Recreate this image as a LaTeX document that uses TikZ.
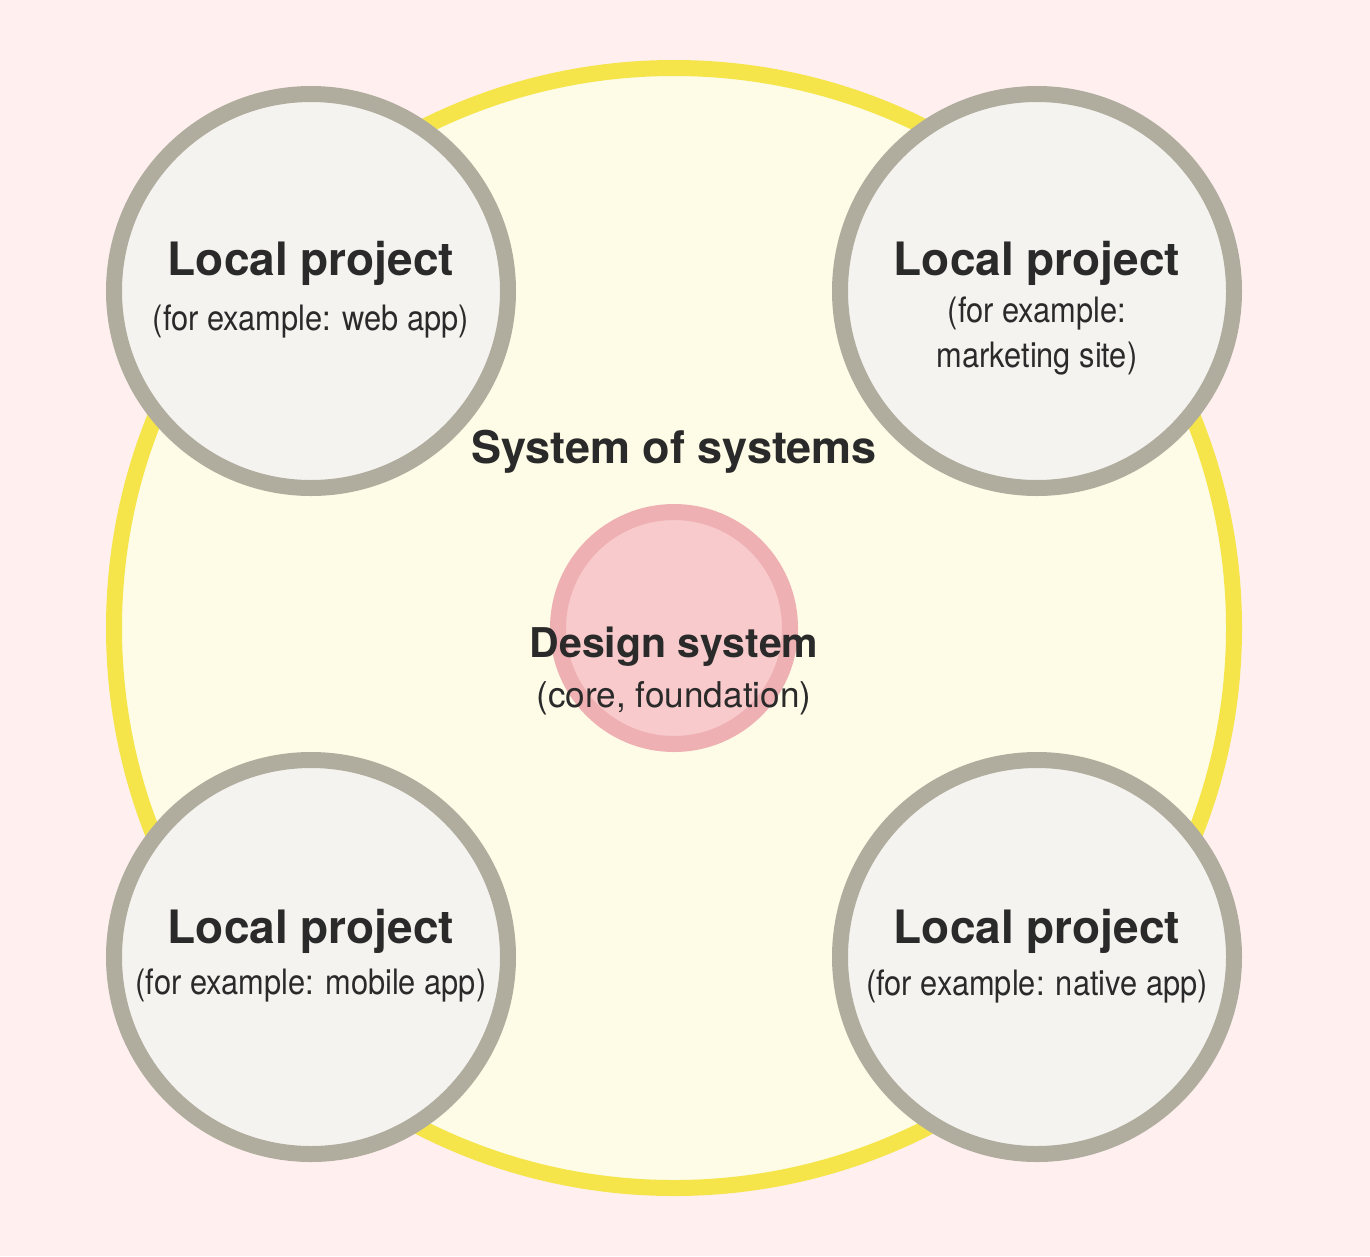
\documentclass[tikz,border=0pt]{standalone}
\usepackage{fontspec}
\setmainfont{TeX Gyre Heros}
\newfontfamily\subfont[FakeStretch=0.88]{TeX Gyre Heros}
\newfontfamily\corefont[FakeStretch=0.99]{TeX Gyre Heros}
\definecolor{bgpink}{HTML}{FFF0EF}
\definecolor{sysline}{HTML}{F5E54B}
\definecolor{sysfill}{HTML}{FEFCE6}
\definecolor{locline}{HTML}{B0AD9F}
\definecolor{locfill}{HTML}{F4F3EF}
\definecolor{dsline}{HTML}{EFB0B3}
\definecolor{dsfill}{HTML}{F8CACB}
\definecolor{ink}{HTML}{2A2A2A}
\tikzset{
  ring/.style={circle, inner sep=0pt, outer sep=0pt, line width=16pt},
  bigring/.style={ring, draw=sysline, fill=sysfill, minimum size=1120pt},
  locring/.style={ring, draw=locline, fill=locfill, minimum size=394pt},
  dsring/.style={ring, draw=dsline, fill=dsfill, minimum size=232pt},
  lbl/.style={anchor=base, inner sep=0pt, text=ink},
  title/.style={lbl, font=\fontsize{46}{50}\selectfont\bfseries},
  subt/.style={lbl, font=\subfont\fontsize{35}{40}\selectfont},
}
\begin{document}
\begin{tikzpicture}[x=1pt, y=-1pt]
\useasboundingbox[fill=bgpink] (0,0) rectangle (1370,1256);
\node[bigring] (sys) at (674,628) {};
\node[dsring] (ds) at (674,628) {};
\node[locring] (tl) at (311,291) {};
\node[locring] (tr) at (1037,291) {};
\node[locring] (bl) at (311,957) {};
\node[locring] (br) at (1037,957) {};
% texts
\node[title] (tl-t) at (311,275) {Local project};
\node[subt] (tl-s) at (311,330) {(for example: web app)};
\node[title] (tr-t) at (1037,275) {Local project};
\node[subt] (tr-s1) at (1037,322) {(for example:};
\node[subt] (tr-s2) at (1037,367) {marketing site)};
\node[title] (bl-t) at (311,943) {Local project};
\node[subt] (bl-s) at (311,994) {(for example: mobile app)};
\node[title] (br-t) at (1037,943) {Local project};
\node[subt] (br-s) at (1037,995) {(for example: native app)};
\node[lbl, font=\fontsize{45}{50}\selectfont\bfseries] (sys-t) at (674,463) {System of systems};
\node[lbl, font=\fontsize{41}{46}\selectfont\bfseries] (ds-t) at (674,657) {Design system};
\node[lbl, font=\corefont\fontsize{35.5}{40}\selectfont] (ds-s) at (674,707) {(core, foundation)};
\end{tikzpicture}
\end{document}
